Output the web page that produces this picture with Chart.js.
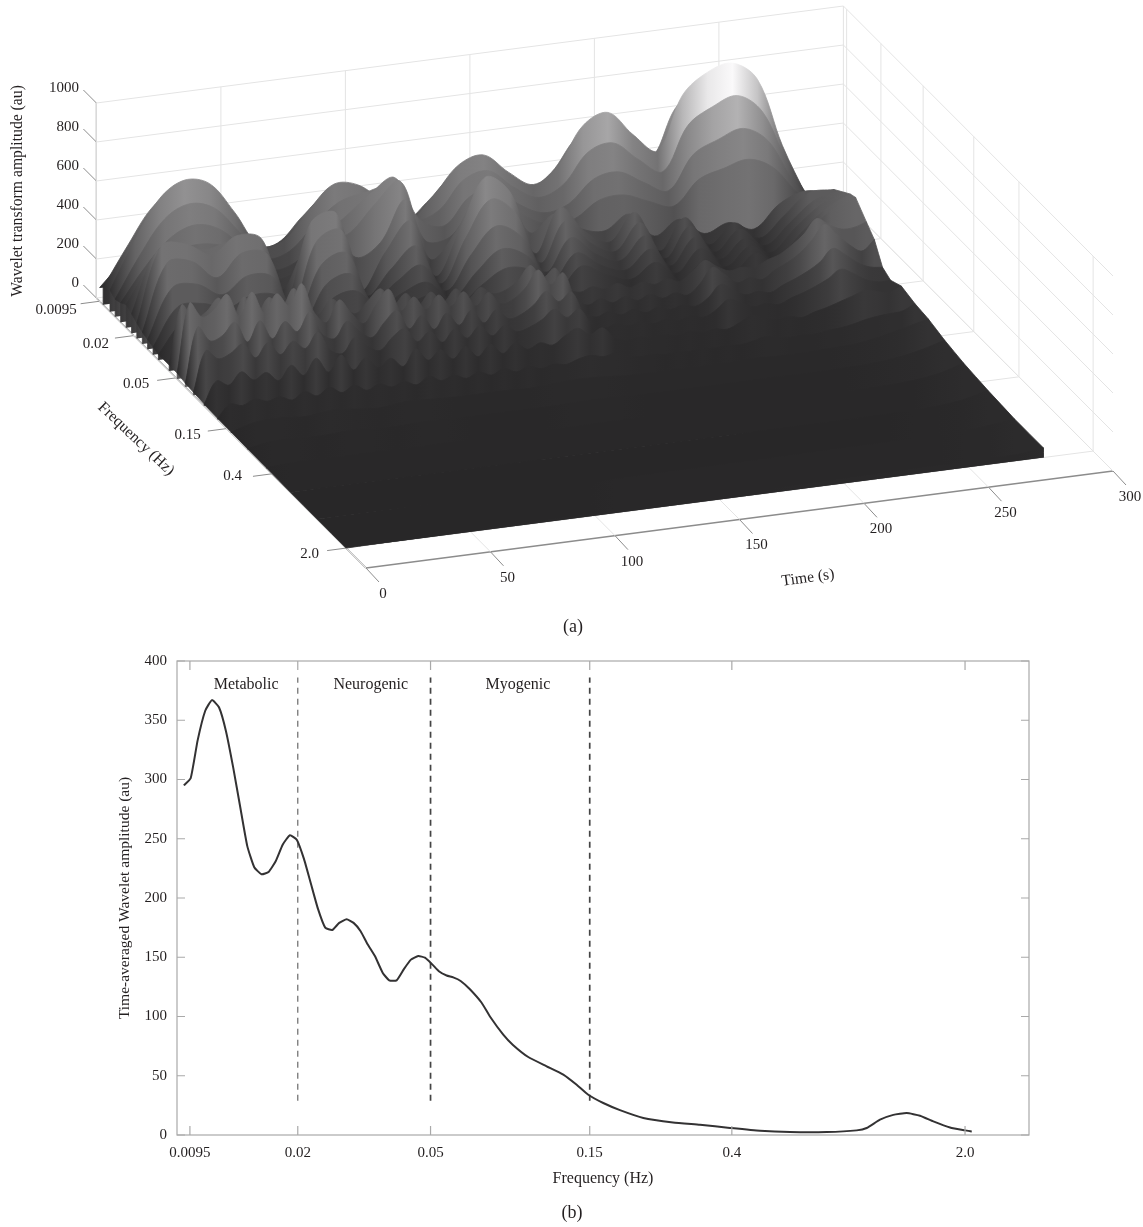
<!DOCTYPE html>
<html><head><meta charset="utf-8">
<script src="https://cdn.jsdelivr.net/npm/chart.js@4"></script>
<style>html,body{margin:0;padding:0;background:#fff}canvas{position:absolute;left:0;display:block}</style>
</head><body>
<canvas id="c3d" width="1143" height="640" style="top:0"></canvas>
<canvas id="c2d" width="1143" height="587" style="top:640px"></canvas>
<script>
/* ---------- panel (a): amplitude read from the surface ---------- */
const zTicks=[0,200,400,600,800,1000];
const timeTicks=[0,50,100,150,200,250,300];
const freqTicks=[0.0095,0.02,0.05,0.15,0.4,2.0];
const freqLabels=['0.0095','0.02','0.05','0.15','0.4','2.0'];
const timeCoarse=[0,10,20,30,40,50,60,70,80,90,100,110,120,130,140,150,160,170,180,190,200,210,220,230,240,250,260,270,280];
const timeFine=[0,5,10,15,20,25,30,35,40,45,50,55,60,65,70,75,80,85,90,95,100,105,110,115,120,125,130,135,140,145,150,155,160,165,170,175,180,185,190,195,200,205,210,215,220,225,230,235,240,245,250,255,260,265,270,275,280];
const rowFreqs=[0.0095,0.01025,0.0119,0.0133,0.0150,0.0169,0.0190,0.0213,0.0240,0.0269,0.0303,0.0340,0.0430,0.0511,0.0610,0.0727,0.0918,0.123,0.165,0.235,0.354,0.6,1.07,2.0];
const amp00=[70,200,330,400,380,270,150,130,220,290,270,210,150,210,300,330,260,220,270,370,400,320,270,420,480,500,440,230,80];
const amp01=[90,290,470,540,510,370,200,200,320,420,400,310,220,310,430,470,380,310,380,540,590,480,390,630,720,750,660,350,100];
const amp02=[110,350,548,625,590,427,240,250,390,505,482,375,270,380,520,555,450,370,450,640,690,560,460,730,830,860,760,405,120];
const amp03=[90,300,470,530,490,350,200,220,340,440,470,480,300,330,470,500,400,330,380,530,560,460,380,600,680,720,620,340,120];
const amp04=[100,270,400,450,410,290,170,190,300,390,490,560,330,280,410,440,340,280,310,420,440,370,310,480,540,580,500,280,130];
const amp05=[120,300,360,380,350,270,150,190,300,340,470,570,250,250,400,420,310,250,260,340,350,300,260,380,420,450,390,240,150];
const amp06=[100,400,410,380,400,320,120,330,430,240,300,500,180,300,500,490,250,330,240,210,280,150,220,130,170,120,230,280,260];
const amp07=[80,460,450,380,460,430,100,480,510,100,280,420,120,350,595,500,170,390,250,180,315,100,255,100,195,100,200,300,300];
const amp08=[60,400,390,290,400,380,90,410,450,100,220,320,110,330,510,420,150,350,220,160,290,90,240,90,190,90,190,290,320];
const amp09=[50,300,300,230,310,290,80,320,360,100,180,250,100,270,400,330,130,290,190,140,250,80,210,80,170,80,190,290,340];
const amp10=[40,230,230,190,240,220,70,250,280,90,150,190,90,210,310,260,110,240,160,120,210,70,180,70,160,70,190,300,360];
const amp11=[30,180,190,170,190,170,60,200,220,80,120,150,80,170,240,210,90,200,140,100,170,60,150,60,150,60,200,320,370];
const amp12=[30,330,250,280,340,220,330,230,310,250,
 340,220,190,260,210,170,230,280,190,240,
 170,230,170,230,170,220,180,190,230,300,
 230,270,160,130,150,130,150,120,140,120,
 140,120,160,210,170,140,150,140,170,190,
 230,280,350,310,280,280,300];
const amp13=[30,380,300,330,400,280,395,280,370,300,
 405,250,190,297,220,160,250,318,200,262,
 190,256,190,256,175,236,170,185,236,318,
 235,287,150,105,130,100,125,95,120,90,
 110,90,140,215,170,120,138,120,160,190,
 230,290,360,300,240,200,250];
const amp14=[20,300,220,240,300,190,290,190,270,210,
 300,180,150,230,170,130,200,250,150,210,
 130,205,135,205,130,190,135,150,190,250,
 190,230,120,85,105,80,100,75,95,75,
 90,75,110,170,135,100,110,95,125,150,
 180,220,280,240,190,160,150];
const amp15=[15,220,170,190,230,150,220,150,210,165,
 240,140,115,190,135,105,165,200,125,170,
 105,165,110,165,105,150,110,125,155,200,
 150,185,100,70,85,65,80,60,75,60,
 75,60,90,135,110,80,90,75,100,120,
 145,175,215,185,145,125,125];
const amp16=[10,120,90,150,100,130,80,150,90,170,
 90,170,85,140,80,120,70,150,85,130,
 75,130,70,125,70,115,75,100,80,120,
 150,110,135,75,55,65,50,60,45,60,
 45,55,45,70,100,80,60,70,55,75,
 90,110,130,150,140,125,150];
const amp17=[6,70,55,80,60,75,50,85,55,90,
 55,85,50,75,50,70,45,80,50,70,
 45,70,45,70,45,65,45,60,50,70,
 80,65,75,50,40,45,35,40,35,40,
 35,40,35,45,60,50,40,45,40,50,
 55,65,80,90,95,100,130];
const amp18=[5,40,45,35,50,40,30,45,40,35,35,35,30,40,45,40,30,30,30,30,30,35,30,30,35,40,60,90,120];
const amp19=[3,25,25,20,28,22,18,25,22,20,20,20,18,22,25,22,18,18,18,18,18,20,18,18,20,24,36,60,95];
const amp20=[2,12,12,10,12,10,8,11,10,9,9,9,8,10,11,10,8,8,8,8,8,9,8,9,10,12,20,38,75];
const amp21=[0,3,3,3,3,3,3,3,3,3,3,3,3,3,3,3,3,3,3,4,4,4,4,5,6,8,14,28,60];
const amp22=[0,2,3,3,4,4,5,5,6,6,7,7,8,8,9,9,10,10,11,12,13,14,15,16,18,20,24,34,50];
const amp23=[0,2,3,4,6,7,8,9,10,11,12,14,15,16,17,18,19,20,22,23,24,25,26,28,29,30,32,34,50];
const rowAmps=[amp00,amp01,amp02,amp03,amp04,amp05,amp06,amp07,amp08,amp09,amp10,amp11,amp12,amp13,amp14,amp15,amp16,amp17,amp18,amp19,amp20,amp21,amp22,amp23];

/* ---------- panel (b): time-averaged curve ---------- */
const avgFreq=[0.00911,0.00955,0.01002,0.01056,0.01106,0.01161,0.01218,0.01281,0.01344,0.01411,0.01481,0.01558,0.01635,0.01717,0.01802,0.01895,0.01988,0.02087,0.02190,0.02298,0.02417,0.02537,0.02662,0.02802,0.02940,0.03086,0.03238,0.03406,0.03592,0.03759,0.03956,0.04160,0.04367,0.04594,0.04810,0.05058,0.05309,0.05586,0.05848,0.06154,0.06561,0.07114,0.07534,0.08258,0.08831,0.09813,0.1114,0.1250,0.1371,0.1485,0.1647,0.1848,0.2171,0.2665,0.3211,0.3949,0.4858,0.5977,0.7699,0.9469,1.0146,1.112,1.219,1.337,1.466,1.607,1.803,2.0,2.095];
const avgAmp=[295,301,333,358,367,361,341,310,277,244,226,220,222,231,245,253,249,233,212,191,175,173,179,182,179,172,161,151,137,130.5,130.5,140,148,151,149.6,144,138,134.6,133,130,123,111.6,100,84.7,76,65.8,58,51,42.4,34,27,21,14.4,10.6,8.6,6,3.6,2.5,2.5,3.9,5.9,12.9,17,18.5,16.3,11.5,6.4,3.9,3];
const bandEdges=[0.02,0.05,0.15];
const bandDash=[29,386];
const bandNames=['Metabolic','Neurogenic','Myogenic'];
const bandNameFreq=[0.0140,0.0331,0.0914];
const bandNameAmp=380;
const ampTicks=[0,50,100,150,200,250,300,350,400];

const SERIF='"Liberation Serif", serif', INK='#231f20';

/* oblique projection of the 3-D box on to the page */
function frac(hz){return 0.012+0.3935*(Math.log10(hz)+2.0223);}
function project(t,fr,z){return {x:96.4+747*t/300+269.6*fr,y:298-97*t/300+270*fr-195*z/1000};}
const grayPts=[[0,40],[100,47],[200,66],[300,92],[400,108],[500,122],[600,138],[700,170],[800,215],[860,250],[1000,255]];
function gray(z){
  for(let i=1;i<grayPts.length;i++){
    if(z<=grayPts[i][0]){const a=grayPts[i-1],b=grayPts[i];const g=Math.round(a[1]+(b[1]-a[1])*(z-a[0])/(b[0]-a[0]));return `rgb(${g},${g-1},${g})`;}
  }
  return 'rgb(255,255,255)';
}
function seg(a,b,color,width){return {type:'scatter',showLine:true,data:[a,b],borderColor:color,borderWidth:width,pointRadius:0,fill:false,order:1000,clip:false};}
const GRID='#e4e4e4',AXIS='#8c8c8c';
const ds=[];
const fT=freqTicks.map(frac);
/* walls and floor */
zTicks.forEach(z=>{
  ds.push(seg(project(0,0,z),project(300,0,z),GRID,1));
  ds.push(seg(project(300,0,z),project(300,1,z),GRID,1));
});
timeTicks.forEach(t=>{
  ds.push(seg(project(t,0,0),project(t,0,1000),GRID,1));
  ds.push(seg(project(t,0,0),project(t,1,0),GRID,1));
});
fT.forEach(f=>{
  ds.push(seg(project(0,f,0),project(300,f,0),GRID,1));
  ds.push(seg(project(300,f,0),project(300,f,1000),GRID,1));
});
/* axes and ticks */
ds.push(seg(project(0,0,0),project(0,0,1000),AXIS,1.2));
ds.push(seg(project(0,0,0),project(0,1,0),AXIS,1.4));
ds.push(seg(project(0,1,0),project(300,1,0),AXIS,1.4));
function shift(p,dx,dy){return {x:p.x+dx,y:p.y+dy};}
zTicks.forEach(z=>{const p=project(0,0,z);ds.push(seg(p,shift(p,-13,-13),AXIS,1));});
fT.forEach(f=>{const p=project(0,f,0);ds.push(seg(p,shift(p,-19,2.5),AXIS,1));});
timeTicks.forEach(t=>{const p=project(t,1,0);ds.push(seg(p,shift(p,13,14),AXIS,1));});
/* surface: one filled ridge per frequency, back to front; each strip joins the next row at both ends */
rowFreqs.forEach((hz,i)=>{
  const amps=rowAmps[i];
  const times=amps.length===timeFine.length?timeFine:timeCoarse;
  const f=frac(hz);
  const j=Math.min(i+1,rowFreqs.length-1);
  const fNext=frac(rowFreqs[j]);
  const next=rowAmps[j];
  const ridge=times.map((t,k)=>project(t,f,amps[k]));
  const tEnd=times[times.length-1];
  const x0=ridge[0].x,x1=ridge[ridge.length-1].x;
  const a0=project(0,fNext,0),a1=project(tEnd,fNext,0);
  const b0=project(0,fNext,next[0]),b1=project(tEnd,fNext,next[next.length-1]);
  /* repeated corner points keep the closing edges straight under the curve tension */
  const pts=[a0,a0,b0,b0,ridge[0],...ridge,ridge[ridge.length-1],b1,b1,a1,a1];
  const paint=c=>{
    const sx=c.chart.scales.x;
    let a=sx?sx.getPixelForValue(x0):NaN,b=sx?sx.getPixelForValue(x1):NaN;
    if(!isFinite(a)||!isFinite(b)){a=x0;b=x1;}
    const g=c.chart.ctx.createLinearGradient(a,0,b,0);
    times.forEach((t,k)=>g.addColorStop(t/tEnd,gray(amps[k])));
    return g;
  };
  ds.push({type:'scatter',showLine:true,data:pts,fill:'shape',backgroundColor:paint,borderColor:paint,borderWidth:0.8,tension:0.35,pointRadius:0,order:500-i,clip:false});
});
function text(ctx,s,x,y,o={}){
  ctx.save();ctx.fillStyle=INK;ctx.font=(o.size||15)+'px '+SERIF;ctx.textAlign=o.align||'center';ctx.textBaseline='middle';
  ctx.translate(x,y);if(o.rot)ctx.rotate(o.rot*Math.PI/180);ctx.fillText(s,0,0);ctx.restore();
}
const labels3d={id:'labels3d',afterDraw(c){
  const ctx=c.ctx;
  zTicks.forEach(z=>{const p=project(0,0,z);text(ctx,String(z),79,p.y-15,{align:'right'});});
  const fOff=[[-23,9],[-25,8],[-27,6],[-26,6],[-30,2],[-27,6]];
  fT.forEach((f,i)=>{const p=project(0,f,0);text(ctx,freqLabels[i],p.x+fOff[i][0],p.y+fOff[i][1],{align:'right'});});
  timeTicks.forEach(t=>{const p=project(t,1,0);text(ctx,String(t),p.x+17,p.y+26);});
  text(ctx,'Wavelet transform amplitude (au)',18,191,{rot:-90,size:15.7});
  text(ctx,'Frequency (Hz)',136,439,{rot:43.5,size:15.7});
  text(ctx,'Time (s)',808,578,{rot:-8,size:15.7});
  text(ctx,'(a)',573,627,{size:18});
}};
new Chart(document.getElementById('c3d'),{
  data:{datasets:ds},
  options:{responsive:false,animation:false,layout:{padding:0},events:[],
    plugins:{legend:{display:false},tooltip:{enabled:false}},
    scales:{x:{type:'linear',min:0,max:1143,display:false},y:{type:'linear',reverse:true,min:0,max:640,display:false}}},
  plugins:[labels3d]
});

/* ---------- panel (b) chart ---------- */
const bandSets=bandEdges.map((e,i)=>({type:'line',data:[{x:e,y:bandDash[0]},{x:e,y:bandDash[1]}],borderColor:i===0?'#6a6a6a':'#444',borderWidth:i===0?1.2:1.7,borderDash:[6,5],pointRadius:0,fill:false}));
const boxPlugin={id:'box',afterDraw(c){
  const {ctx,chartArea:a,scales:{x,y}}=c;
  ctx.save();ctx.strokeStyle='#a9a9a9';ctx.lineWidth=1.2;
  ctx.strokeRect(a.left,a.top,a.right-a.left,a.bottom-a.top);
  ctx.beginPath();
  freqTicks.forEach(v=>{const p=x.getPixelForValue(v);ctx.moveTo(p,a.bottom);ctx.lineTo(p,a.bottom-9);ctx.moveTo(p,a.top);ctx.lineTo(p,a.top+9);});
  ampTicks.forEach(v=>{const p=y.getPixelForValue(v);ctx.moveTo(a.left,p);ctx.lineTo(a.left+8,p);ctx.moveTo(a.right,p);ctx.lineTo(a.right-8,p);});
  ctx.stroke();ctx.restore();
  bandNames.forEach((n,i)=>text(ctx,n,x.getPixelForValue(bandNameFreq[i]),y.getPixelForValue(bandNameAmp),{size:16}));
  text(ctx,'(b)',572,573,{size:18});
}};
new Chart(document.getElementById('c2d'),{
  data:{datasets:[
    {type:'line',data:avgFreq.map((f,i)=>({x:f,y:avgAmp[i]})),borderColor:'#333233',borderWidth:2,tension:0.15,pointRadius:0,fill:false},
    ...bandSets]},
  options:{responsive:false,animation:false,events:[],
    layout:{padding:{left:0,top:21,right:114,bottom:0}},
    plugins:{legend:{display:false},tooltip:{enabled:false}},
    scales:{
      x:{type:'logarithmic',min:0.00869,max:3.11,
        afterBuildTicks:s=>{s.ticks=freqTicks.map(value=>({value}));},
        afterFit:s=>{s.height=92;},
        grid:{display:false},border:{display:false},
        ticks:{autoSkip:false,maxRotation:0,minRotation:0,padding:1,color:INK,font:{family:SERIF,size:15},callback:v=>freqLabels[freqTicks.indexOf(v)]},
        title:{display:true,text:'Frequency (Hz)',color:INK,font:{family:SERIF,size:16},padding:{top:0,bottom:39}}},
      y:{type:'linear',min:0,max:400,
        afterBuildTicks:s=>{s.ticks=ampTicks.map(value=>({value}));},
        afterFit:s=>{s.width=177;},
        grid:{display:false},border:{display:false},
        ticks:{padding:2,color:INK,font:{family:SERIF,size:15}},
        title:{display:true,text:'Time-averaged Wavelet amplitude (au)',color:INK,font:{family:SERIF,size:15.5},padding:{top:116,bottom:0}}}
    }},
  plugins:[boxPlugin]
});
</script>
</body></html>
